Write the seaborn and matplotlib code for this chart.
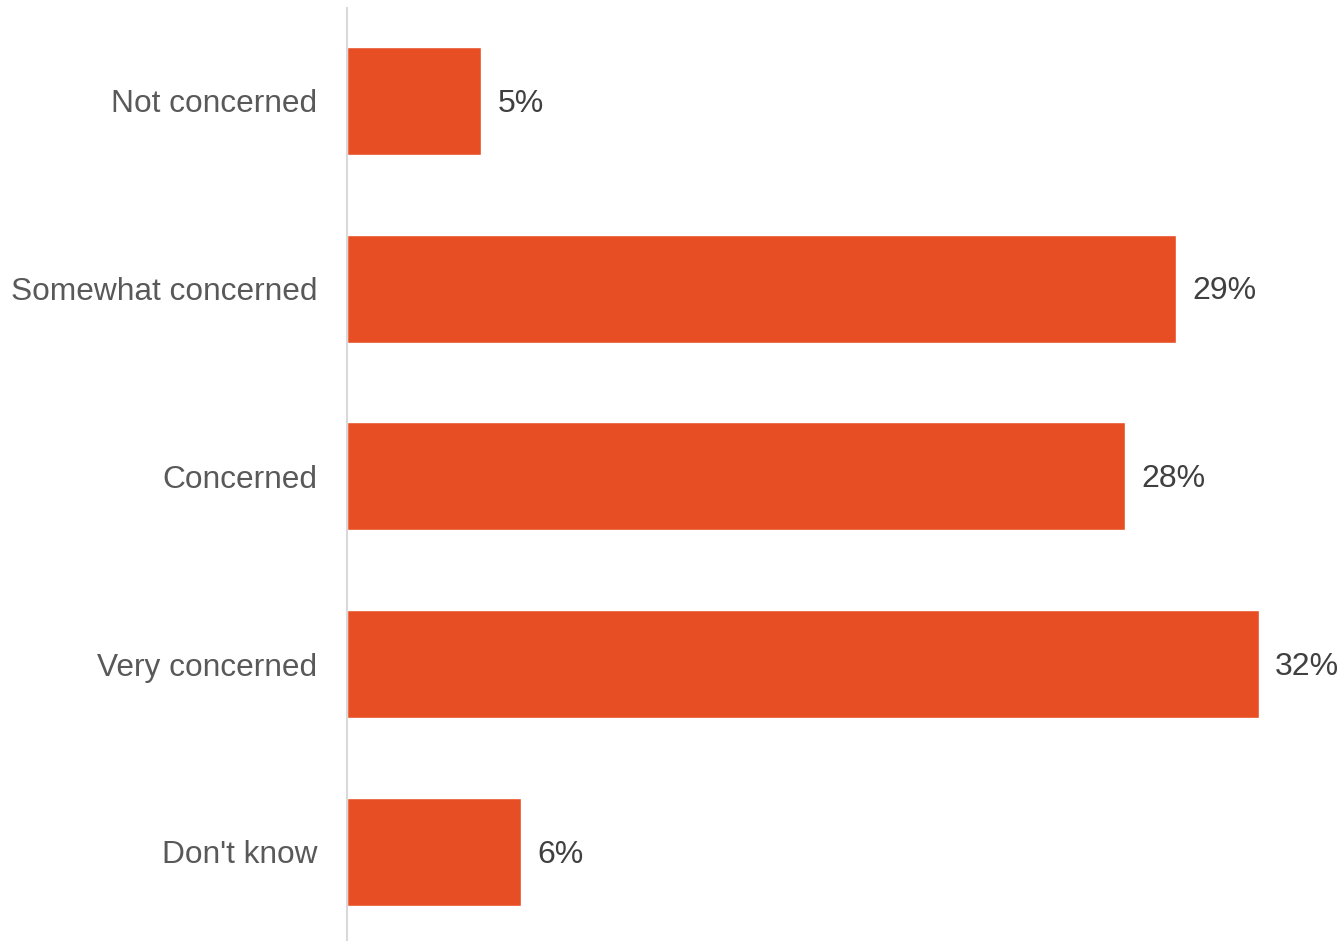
import matplotlib
matplotlib.use("Agg")
import matplotlib.pyplot as plt
import seaborn as sns
import pandas as pd

categories = ["Not concerned", "Somewhat concerned", "Concerned", "Very concerned", "Don't know"]
values = [4.7, 29.1, 27.3, 32.0, 6.1]
value_labels = ["5%", "29%", "28%", "32%", "6%"]

df = pd.DataFrame({"category": categories, "value": values})

sns.set_style("white")
plt.rcParams['font.family'] = ['Liberation Sans', 'DejaVu Sans']

fig = plt.figure(figsize=(13.44, 9.42), dpi=100)
ax = fig.add_axes([0.258, 0.0, 0.742, 1.0])

sns.barplot(data=df, x="value", y="category", color="#E84E24", saturation=1,
            width=0.575, ax=ax)

ax.set_xlim(0, 35)
ax.set_ylim(4.481, -0.538)
ax.set_xlabel("")
ax.set_ylabel("")
ax.set_xticks([])
ax.tick_params(axis="y", length=0, pad=21, labelsize=22.8, labelcolor="#595959")

for s in ["top", "right", "bottom"]:
    ax.spines[s].set_visible(False)
ax.spines["left"].set_color("#D9D9D9")
ax.spines["left"].set_linewidth(1.5)
ax.spines["left"].set_bounds(-0.495, 4.47)

# value labels at bar ends
for i, (v, lab) in enumerate(zip(values, value_labels)):
    ax.annotate(lab, (v, i), xytext=(12, -2), textcoords="offset points",
                va="center", ha="left", fontsize=23, color="#404040")

fig.savefig("out.png", dpi=100)
